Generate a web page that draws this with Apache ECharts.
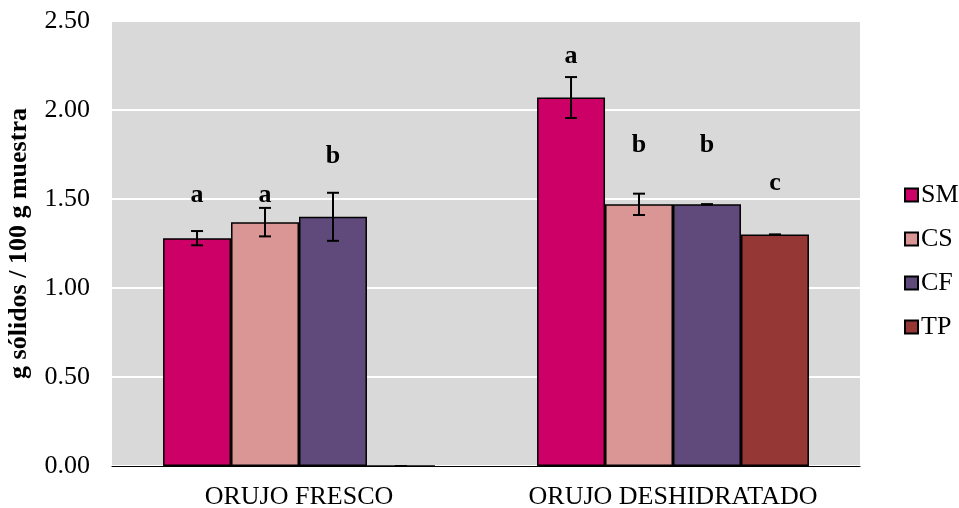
<!DOCTYPE html>
<html><head><meta charset="utf-8">
<script src="https://cdn.jsdelivr.net/npm/echarts@6/dist/echarts.min.js"></script>
<style>html,body{margin:0;padding:0;background:#fff}#c{width:959px;height:508px}</style>
</head><body><div id="c"></div>
<script>
const categories = ['ORUJO FRESCO', 'ORUJO DESHIDRATADO'];
const seriesNames = ['SM', 'CS', 'CF', 'TP'];
const SM = [1.28, 2.07];
const CS = [1.37, 1.47];
const CF = [1.40, 1.47];
const TP = [0, 1.30];
const SM_err = [0.04, 0.115];
const CS_err = [0.08, 0.06];
const CF_err = [0.135, 0.0];
const TP_err = [0.0, 0.0];
const SM_letters = ['a', 'a'];
const CS_letters = ['a', 'b'];
const CF_letters = ['b', 'b'];
const TP_letters = ['', 'c'];
const SM_letterY = [1.52, 2.30];
const CS_letterY = [1.52, 1.80];
const CF_letterY = [1.74, 1.80];
const TP_letterY = [0, 1.59];
const yTicks = [0, 0.5, 1.0, 1.5, 2.0, 2.5];

const colors = ['#cc0066', '#d99694', '#604a7b', '#953735'];
const values = [SM, CS, CF, TP];
const errs = [SM_err, CS_err, CF_err, TP_err];
const letters = [SM_letters, CS_letters, CF_letters, TP_letters];
const letterYs = [SM_letterY, CS_letterY, CF_letterY, TP_letterY];
const catGap = 0.273;
const font = 'Liberation Serif';

const errData = [];
for (let s = 0; s < 4; s++) {
  for (let c = 0; c < categories.length; c++) {
    errData.push([c, s, values[s][c], errs[s][c], letterYs[s][c], letters[s][c]]);
  }
}

const series = seriesNames.map((n, i) => ({
  name: n, type: 'bar', data: values[i],
  barGap: '0%', barCategoryGap: (catGap * 100) + '%',
  itemStyle: { color: colors[i], borderColor: '#000', borderWidth: 1.5 },
  z: 2
}));

series.push({
  type: 'custom', name: 'err', z: 5, silent: true,
  encode: { x: 0, y: 2 },
  data: errData,
  renderItem: function (params, api) {
    const c = api.value(0), s = api.value(1), v = api.value(2), e = api.value(3), ly = api.value(4);
    const letter = errData[params.dataIndex][5];
    const band = api.size([1, 0])[0];
    const bw = band * (1 - catGap) / 4;
    const center = api.coord([c, v]);
    const x = center[0] + (s - 1.5) * bw;
    const yT = api.coord([c, v + e])[1];
    const yB = api.coord([c, v - e])[1];
    const cap = 6;
    const st = { stroke: '#000', lineWidth: 2 };
    const children = [
      { type: 'line', shape: { x1: x, y1: yT, x2: x, y2: yB }, style: st },
      { type: 'line', shape: { x1: x - cap, y1: yT, x2: x + cap, y2: yT }, style: st },
      { type: 'line', shape: { x1: x - cap, y1: yB, x2: x + cap, y2: yB }, style: st }
    ];
    if (letter) {
      const ty = api.coord([c, ly])[1];
      children.push({ type: 'text', style: { text: letter, x: x, y: ty, align: 'center', verticalAlign: 'middle',
        font: 'bold 26px "Liberation Serif"', fill: '#000' } });
    }
    return { type: 'group', children: children };
  }
});

const chart = echarts.init(document.getElementById('c'));
chart.setOption({
  animation: false,
  backgroundColor: '#fff',
  grid: { left: 112, right: 99, top: 21, bottom: 42, show: true, backgroundColor: '#d9d9d9', borderWidth: 0,
    containLabel: false, outerBoundsMode: 'none' },
  legend: {
    data: seriesNames, orient: 'vertical', left: 899, top: 177,
    itemWidth: 13, itemHeight: 13, itemGap: 18,
    textStyle: { fontFamily: font, fontSize: 26, color: '#000', padding: [0, 0, 0, -2] },
    icon: 'rect'
  },
  xAxis: {
    type: 'category', data: categories,
    axisLine: { lineStyle: { color: '#000', width: 1 } },
    axisTick: { show: false },
    axisLabel: { fontFamily: font, fontSize: 26, color: '#000', margin: 18, interval: 0, hideOverlap: false }
  },
  yAxis: {
    type: 'value', min: 0, max: 2.5, interval: 0.5,
    name: 'g sólidos / 100 g muestra', nameLocation: 'middle', nameRotate: 90, nameGap: 80,
    nameTextStyle: { fontFamily: font, fontSize: 26, fontWeight: 'bold', color: '#000' },
    axisLine: { show: false }, axisTick: { show: false },
    splitLine: { lineStyle: { color: '#fff', width: 2 } },
    axisLabel: { fontFamily: font, fontSize: 26, color: '#000', margin: 22,
      formatter: v => yTicks.includes(v) ? v.toFixed(2) : '' }
  },
  series: series
});
</script></body></html>
